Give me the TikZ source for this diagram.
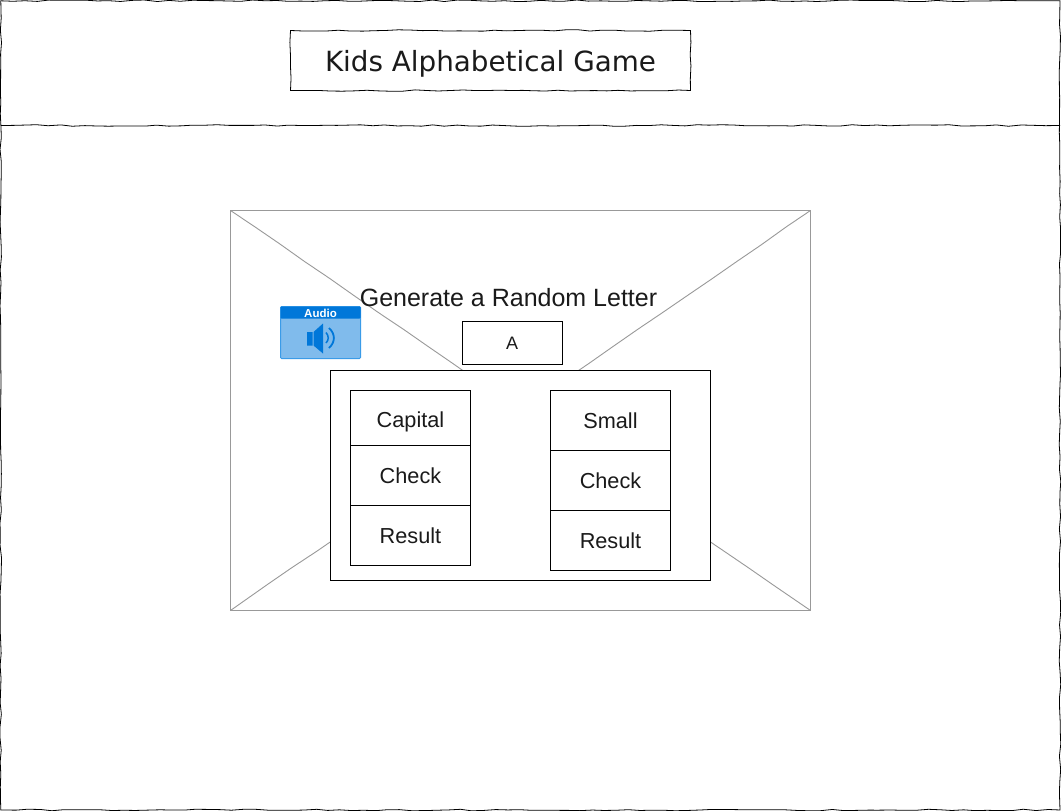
\documentclass[tikz,border=0pt]{standalone}
\usepackage{fontspec}
\setmainfont{Liberation Sans}
\newfontfamily\titlefont{DejaVu Sans}
\usetikzlibrary{decorations.pathmorphing}
\definecolor{ink}{HTML}{1A1A1A}
\definecolor{wire}{HTML}{999999}
\definecolor{audiohead}{HTML}{0077D9}
\definecolor{audiobody}{HTML}{80BBEC}
\definecolor{audioedge}{HTML}{3A9BE8}
\tikzset{
  x=1pt,y=-1pt,
  sketch/.style={draw=black,line width=0.8pt,decorate,decoration={random steps,segment length=12pt,amplitude=0.8pt}},
  wireline/.style={draw=wire,line width=1pt},
  cell/.style={draw=black,line width=1pt,fill=white,minimum width=120pt,text=ink,font=\fontsize{21.7}{25}\selectfont,inner sep=0pt,outer sep=0pt,anchor=north west,text height=15pt,text depth=0pt},
}
\pgfmathsetseed{42}
\begin{document}
\begin{tikzpicture}
\useasboundingbox (0,0) rectangle (1061,811);
\fill[white] (0,0) rectangle (1061,811);
% page sketch frame
\path[sketch] (0.8,0.8) -- (1060,0.8) -- (1060,810) -- (0.8,810) -- cycle;
\path[sketch] (0.8,125.5) -- (1060,125.5);
\path[sketch] (290.5,30.5) -- (690.5,30.5) -- (690.5,90.5) -- (290.5,90.5) -- cycle;
\node[text=ink,font=\titlefont\fontsize{27.8}{34}\selectfont,inner sep=0pt,outer sep=0pt] (title) at (490.5,63.5) {Kids Alphabetical Game};
% image placeholder
\draw[wireline] (230.5,210.5) rectangle (810.5,610.5);
\coordinate (ptl) at (230.5,210.5);
\coordinate (ptr) at (810.5,210.5);
\coordinate (pbl) at (230.5,610.5);
\coordinate (pbr) at (810.5,610.5);
\draw[wireline,line width=0.9pt,decorate,decoration={random steps,segment length=30pt,amplitude=0.5pt}] (ptl) -- (pbr);
\draw[wireline,line width=0.9pt,decorate,decoration={random steps,segment length=30pt,amplitude=0.5pt}] (ptr) -- (pbl);
% label and letter
\node[text=ink,font=\fontsize{25}{29}\selectfont,inner sep=0pt,outer sep=0pt] (gen) at (508.5,298) {Generate a Random Letter};
\node[draw=black,line width=1pt,fill=white,text=ink,font=\fontsize{18}{22}\selectfont,minimum width=100pt,minimum height=43pt,inner sep=0pt,outer sep=0pt,anchor=north west] (letter) at (462,321.5) {A};
% panel
\node[draw=black,line width=1pt,fill=white,minimum width=380pt,minimum height=210pt,inner sep=0pt,outer sep=0pt,anchor=north west] (panel) at (330.5,370.5) {};
\node[cell,minimum height=55pt,text height=19pt] (cap) at (350.5,390.5) {Capital};
\node[cell,minimum height=60pt] (capchk) at (350.5,445.5) {Check};
\node[cell,minimum height=60pt] (capres) at (350.5,505.5) {Result};
\node[cell,minimum height=60pt] (small) at (550.5,390.5) {Small};
\node[cell,minimum height=60pt] (smchk) at (550.5,450.5) {Check};
\node[cell,minimum height=60pt] (smres) at (550.5,510.5) {Result};
% audio widget
\fill[audiobody,draw=audioedge,line width=1pt,rounded corners=1pt] (280.5,306.5) rectangle (360.5,358.5);
\fill[audiohead,rounded corners=1pt] (280.5,306.5) rectangle (360.5,318.5);
\node[text=white,font=\bfseries\fontsize{11.5}{14}\selectfont,inner sep=0pt] (audio) at (320.5,313.5) {Audio};
\fill[audiohead] (307,332) rectangle (312.5,345.5) (313.5,332) -- (323,323.5) -- (323,353.5) -- (313.5,345.5) -- cycle;
\draw[audiohead,line width=1.5pt] (326,332.5) .. controls (329,336) and (329,340) .. (326,343);
\draw[audiohead,line width=1.8pt] (329,328) .. controls (335.5,334) and (335.5,342) .. (329,348);
\end{tikzpicture}
\end{document}
